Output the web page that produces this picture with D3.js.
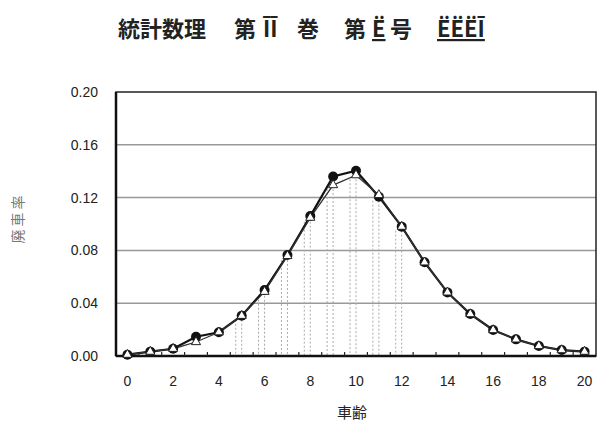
<!DOCTYPE html>
<html>
<head>
<meta charset="utf-8">
<script src="https://cdn.jsdelivr.net/npm/d3@7"></script>
<style>
  body { margin: 0; background: #fff; }
  svg { display: block; }
</style>
</head>
<body>
<div id="chart"></div>
<script>
// 車齢 (vehicle age) categories
const ages = d3.range(0, 21);
// series with filled circles
const rateA = [0.001, 0.0033, 0.0055, 0.0146, 0.018, 0.0305, 0.050, 0.0765, 0.106, 0.136, 0.1404,
  0.1207, 0.098, 0.071, 0.0482, 0.0318, 0.0197, 0.0126, 0.0076, 0.0045, 0.0033];
// series with open triangles
const rateB = [0.001, 0.0033, 0.0055, 0.0106, 0.018, 0.0305, 0.0487, 0.0758, 0.1048, 0.1295, 0.137,
  0.122, 0.098, 0.071, 0.0482, 0.0318, 0.0197, 0.0126, 0.0076, 0.0045, 0.0033];
const yTicks = [0, 0.04, 0.08, 0.12, 0.16, 0.20];
const xLabels = [0, 2, 4, 6, 8, 10, 12, 14, 16, 18, 20];
const dropAges = [5, 6, 7, 8, 9, 10, 11, 12];

const W = 607, H = 431;
const m = { left: 116, right: 11, top: 92, bottom: 75 };
const iw = W - m.left - m.right, ih = H - m.top - m.bottom;

const svg = d3.select("#chart").append("svg").attr("width", W).attr("height", H);

// title, pieces placed like the scanned header
const titleParts = [
  { x: 118, t: "統計数理" },
  { x: 234, t: "第" },
  { x: 263, t: "ĪĪ" },
  { x: 297, t: "巻" },
  { x: 344, t: "第" },
  { x: 372, t: "Ë", u: true },
  { x: 390, t: "号" },
  { x: 437, t: "ËËËĪ", u: true },
];
svg.append("g").selectAll("text").data(titleParts).join("text")
  .attr("x", (d) => d.x).attr("y", 37)
  .attr("font-family", "Noto Sans CJK JP").attr("font-weight", "bold")
  .attr("font-size", 22).attr("fill", "#222")
  .attr("text-decoration", (d) => d.u ? "underline" : null)
  .text((d) => d.t);

const g = svg.append("g").attr("transform", `translate(${m.left},${m.top})`);

const x = d3.scaleBand().domain(ages).range([0, iw]);
const cx = (d) => x(d) + x.bandwidth() / 2;
const y = d3.scaleLinear().domain([0, 0.2]).range([ih, 0]);

// gridlines
g.append("g").selectAll("line").data(yTicks.slice(1, -1)).join("line")
  .attr("x1", 0).attr("x2", iw)
  .attr("y1", (d) => y(d)).attr("y2", (d) => y(d))
  .attr("stroke", "#999").attr("stroke-width", 1.5);

// dotted drop lines
const drops = g.append("g").attr("stroke", "#aaa").attr("stroke-width", 1).attr("stroke-dasharray", "2,2");
dropAges.forEach((a) => {
  [0, -6].forEach((off) => {
    drops.append("line")
      .attr("x1", cx(a) + off).attr("x2", cx(a) + off)
      .attr("y1", y(Math.min(rateA[a], rateB[a])) + 4).attr("y2", ih);
  });
});

// frame
g.append("rect").attr("width", iw).attr("height", ih)
  .attr("fill", "none").attr("stroke", "#222").attr("stroke-width", 1.5);
g.append("line").attr("x1", 0).attr("x2", 0).attr("y1", 0).attr("y2", ih)
  .attr("stroke", "#111").attr("stroke-width", 2.5);
g.append("line").attr("x1", 0).attr("x2", iw).attr("y1", ih).attr("y2", ih)
  .attr("stroke", "#111").attr("stroke-width", 2.5);

// x axis: ticks between categories, labels every other category
const xa = g.append("g").attr("transform", `translate(0,${ih})`);
xa.selectAll("line").data(ages.slice(1)).join("line")
  .attr("x1", (d) => x(d)).attr("x2", (d) => x(d))
  .attr("y1", 0).attr("y2", -4).attr("stroke", "#222").attr("stroke-width", 1.2);
xa.selectAll("text").data(xLabels).join("text")
  .attr("x", (d) => cx(d)).attr("y", 30)
  .attr("text-anchor", "middle").attr("font-family", "Liberation Sans, Arial")
  .attr("font-size", 14).attr("fill", "#222").text((d) => d);

// y axis labels
const ya = g.append("g");
ya.selectAll("text").data(yTicks).join("text")
  .attr("x", -18).attr("y", (d) => y(d) + 5)
  .attr("text-anchor", "end").attr("font-family", "Liberation Sans, Arial")
  .attr("font-size", 14).attr("fill", "#222").text((d) => d.toFixed(2));

// axis titles
svg.append("text").attr("x", 352).attr("y", 418)
  .attr("text-anchor", "middle").attr("font-family", "Noto Sans CJK JP")
  .attr("font-size", 15).attr("fill", "#222").text("車齢");
svg.append("text").attr("transform", "translate(23,218) rotate(-90)")
  .attr("text-anchor", "middle").attr("font-family", "Noto Sans CJK JP")
  .attr("font-size", 14).attr("letter-spacing", 3).attr("fill", "#777").text("廃車率");

// lines
const line = (arr) => d3.line().x((d) => cx(d)).y((d) => y(arr[d]))(ages);
g.append("path").attr("d", line(rateA)).attr("fill", "none")
  .attr("stroke", "#111").attr("stroke-width", 2.2);
g.append("path").attr("d", line(rateB)).attr("fill", "none")
  .attr("stroke", "#333").attr("stroke-width", 1.3);

// markers
g.append("g").selectAll("circle").data(ages).join("circle")
  .attr("cx", (d) => cx(d)).attr("cy", (d) => y(rateA[d])).attr("r", 5)
  .attr("fill", "#111");
const tri = d3.symbol().type(d3.symbolTriangle).size(36);
g.append("g").selectAll("path").data(ages).join("path")
  .attr("transform", (d) => `translate(${cx(d)},${y(rateB[d])})`)
  .attr("d", tri).attr("fill", "#fff").attr("stroke", "#222").attr("stroke-width", 1);
</script>
</body>
</html>
